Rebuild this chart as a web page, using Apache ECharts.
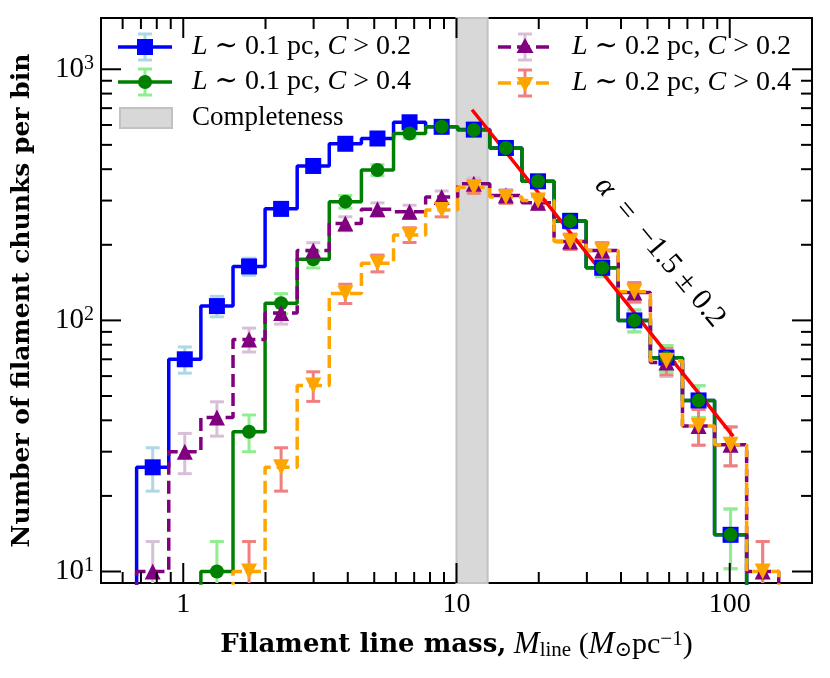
<!DOCTYPE html>
<html>
<head>
<meta charset="utf-8">
<script src="https://cdn.jsdelivr.net/npm/echarts@6/dist/echarts.min.js"></script>
<style>
html, body { margin: 0; padding: 0; background: #fff; }
#main { width: 830px; height: 678px; }
</style>
</head>
<body>
<div id="main"></div>
<script>
// bins (log spaced)
var binEdges = [0.675, 0.885, 1.16, 1.521, 1.993, 2.612, 3.423, 4.487, 5.883, 7.709, 10.10,
  13.24, 17.36, 22.75, 29.82, 39.08, 51.23, 67.14, 88.0, 115.3, 151.1];
var binCenters = [0.773, 1.013, 1.328, 1.741, 2.281, 2.990, 3.919, 5.137, 6.733, 8.825, 11.57,
  15.16, 19.87, 26.05, 34.14, 44.75, 58.65, 76.88, 100.7, 132.0];

// counts per bin
var l01c02 = [26, 70, 114, 164, 278, 412, 505, 530, 615, 590, 575, 486, 358, 249, 162, 100, 71, 48, 14, null];
var l01c04 = [null, null, 10, 36, 117, 175, 297, 397, 555, 590, 573, 486, 358, 249, 162, 100, 71, 48, 14, null];
var l02c02 = [10, 30, 41, 84, 107, 190, 243, 277, 271, 310, 350, 314, 294, 206, 190, 129, 68, 38, 32, 10];
var l02c04 = [null, null, null, 10, 26, 55, 128, 169, 219, 275, 339, 310, 300, 206, 190, 130, 69, 38, 32, 10];

// power-law fit end points
var fitX = [11.4, 103];
var fitY = [690, 34.5];

var completeness = [10, 13];

// axis ticks
var xMajorTicks = [1, 10, 100];
var xMinorTicks = [0.6, 0.7, 0.8, 0.9, 2, 3, 4, 5, 6, 7, 8, 9, 20, 30, 40, 50, 60, 70, 80, 90];
var yMajorTicks = [10, 100, 1000];
var yMinorTicks = [20, 30, 40, 50, 60, 70, 80, 90, 200, 300, 400, 500, 600, 700, 800, 900];

var xMin = 0.5, xMax = 200, yMin = 9, yMax = 1600;
var yFloor = 1;

var serif = '"Liberation Serif", "DejaVu Serif", serif';
var serifBold = '"DejaVu Serif", "Liberation Serif", serif';

var chart = echarts.init(document.getElementById('main'));

// histogram outline like matplotlib step
function stepPoints(vals) {
  var first = -1, last = -1;
  for (var i = 0; i < vals.length; i++) {
    if (vals[i] != null) { if (first < 0) first = i; last = i; }
  }
  var pts = [[binEdges[first], yFloor]];
  for (var j = first; j <= last; j++) {
    pts.push([binEdges[j], vals[j]]);
    pts.push([binEdges[j + 1], vals[j]]);
  }
  pts.push([binEdges[last + 1], yFloor]);
  return pts;
}
function markerPoints(vals) {
  var out = [];
  vals.forEach(function (v, i) { if (v != null) out.push([binCenters[i], v]); });
  return out;
}
// poisson error bars
function errPoints(vals) {
  var out = [];
  vals.forEach(function (v, i) {
    if (v != null) out.push([binCenters[i], v - Math.sqrt(v), v + Math.sqrt(v)]);
  });
  return out;
}
function errRender(color) {
  return function (params, api) {
    var x = api.value(0);
    var lo = api.coord([x, api.value(1)]);
    var hi = api.coord([x, api.value(2)]);
    var st = { stroke: color, lineWidth: 3 };
    return { type: 'group', children: [
      { type: 'line', shape: { x1: lo[0], y1: lo[1], x2: hi[0], y2: hi[1] }, style: st },
      { type: 'line', shape: { x1: lo[0] - 7, y1: lo[1], x2: lo[0] + 7, y2: lo[1] }, style: st },
      { type: 'line', shape: { x1: hi[0] - 7, y1: hi[1], x2: hi[0] + 7, y2: hi[1] }, style: st }
    ] };
  };
}
function tickData(vals, len, isX) {
  return vals.map(function (v) { return isX ? [v, yMin, len] : [xMin, v, len]; });
}
function xTickRender(params, api) {
  var v = api.value(0), len = api.value(2);
  var b = api.coord([v, yMin]), t = api.coord([v, yMax]);
  var st = { stroke: '#000', lineWidth: 2 };
  return { type: 'group', children: [
    { type: 'line', shape: { x1: b[0], y1: b[1], x2: b[0], y2: b[1] - len }, style: st },
    { type: 'line', shape: { x1: t[0], y1: t[1], x2: t[0], y2: t[1] + len }, style: st }
  ] };
}
function yTickRender(params, api) {
  var v = api.value(1), len = api.value(2);
  var l = api.coord([xMin, v]), r = api.coord([xMax, v]);
  var st = { stroke: '#000', lineWidth: 2 };
  return { type: 'group', children: [
    { type: 'line', shape: { x1: l[0], y1: l[1], x2: l[0] + len, y2: l[1] }, style: st },
    { type: 'line', shape: { x1: r[0], y1: r[1], x2: r[0] - len, y2: r[1] }, style: st }
  ] };
}

var sets = [
  { data: l01c02, color: '#0000ff', err: '#add8e6', dash: 'solid', symbol: 'rect', size: 16, rot: 0 },
  { data: l01c04, color: '#008000', err: '#90ee90', dash: 'solid', symbol: 'circle', size: 14, rot: 0 },
  { data: l02c02, color: '#800080', err: '#d8bfd8', dash: [13, 6], symbol: 'triangle', size: 16, rot: 0 },
  { data: l02c04, color: '#ffa500', err: '#f08080', dash: [13, 6], symbol: 'triangle', size: 16, rot: 180 }
];

var series = [];
series.push({
  type: 'custom', name: 'Completeness', z: 1, silent: true,
  data: [[completeness[0], yMin, completeness[1]]],
  renderItem: function (params, api) {
    var a = api.coord([api.value(0), yMin]);
    var b = api.coord([api.value(2), yMax]);
    return { type: 'rect', shape: { x: a[0], y: b[1], width: b[0] - a[0], height: a[1] - b[1] },
      style: { fill: '#d8d8d8', stroke: '#c2c2c2', lineWidth: 2 } };
  }
});
sets.forEach(function (s, k) {
  series.push({ type: 'custom', z: 2, clip: true, silent: true, data: errPoints(s.data),
    encode: { x: 0, y: [1, 2] }, renderItem: errRender(s.err) });
});
sets.forEach(function (s, k) {
  series.push({ type: 'line', z: 3 + k, data: stepPoints(s.data), symbol: 'none', silent: true,
    clip: true, lineStyle: { color: s.color, width: 3.5, type: s.dash } });
});
series.push({ type: 'line', z: 8, data: [[fitX[0], fitY[0]], [fitX[1], fitY[1]]], symbol: 'none',
  lineStyle: { color: '#ff0000', width: 3.5 } });
sets.forEach(function (s, k) {
  series.push({ type: 'scatter', z: 9 + k, data: markerPoints(s.data), symbol: s.symbol,
    symbolSize: s.size, symbolRotate: s.rot, itemStyle: { color: s.color, opacity: 1 } });
});
series.push({ type: 'custom', z: 20, silent: true, data: tickData(xMajorTicks, 20, true), renderItem: xTickRender });
series.push({ type: 'custom', z: 20, silent: true, data: tickData(xMinorTicks, 11, true), renderItem: xTickRender });
series.push({ type: 'custom', z: 20, silent: true, data: tickData(yMajorTicks, 20, false), renderItem: yTickRender });
series.push({ type: 'custom', z: 20, silent: true, data: tickData(yMinorTicks, 11, false), renderItem: yTickRender });

var option = {
  animation: false,
  grid: { left: 101, right: 18, top: 18, bottom: 95, show: true, borderColor: '#000', borderWidth: 2,
    backgroundColor: 'transparent' },
  xAxis: {
    type: 'log', logBase: 10, min: xMin, max: xMax,
    splitLine: { show: false }, axisTick: { show: false }, axisLine: { show: false },
    axisLabel: {
      showMinLabel: false, showMaxLabel: false, margin: 8,
      fontFamily: serif, fontSize: 28, color: '#000',
      formatter: function (v) {
        var e = Math.log10(v);
        return Math.abs(e - Math.round(e)) < 0.01 ? String(Math.round(v)) : '';
      }
    },
    name: '{b|Filament line mass,} {i|M}{sub|line} ({i|M}{sub|\u2299}pc{sup|\u22121})',
    nameLocation: 'middle', nameGap: 46,
    nameTextStyle: {
      fontFamily: serif, fontSize: 30, color: '#000',
      rich: {
        b: { fontFamily: serifBold, fontSize: 26, fontWeight: 'bold', color: '#000', lineHeight: 32 },
        i: { fontFamily: serif, fontSize: 31, fontStyle: 'italic', color: '#000', lineHeight: 32 },
        sub: { fontFamily: serif, fontSize: 21, color: '#000', verticalAlign: 'bottom', lineHeight: 20, padding: [10, 0, 0, 0] },
        sup: { fontFamily: serif, fontSize: 21, color: '#000', verticalAlign: 'top', lineHeight: 20, padding: [0, 0, 8, 0] }
      }
    }
  },
  yAxis: {
    type: 'log', logBase: 10, min: yMin, max: yMax,
    splitLine: { show: false }, axisTick: { show: false }, axisLine: { show: false },
    axisLabel: {
      showMinLabel: false, showMaxLabel: false, margin: 7,
      fontFamily: serif, fontSize: 29, color: '#000',
      formatter: function (v) {
        var e = Math.log10(v);
        if (Math.abs(e - Math.round(e)) > 0.01) return '';
        return '{n|10}{s|' + Math.round(e) + '}';
      },
      rich: {
        n: { fontFamily: serif, fontSize: 29, color: '#000', lineHeight: 32 },
        s: { fontFamily: serif, fontSize: 20, color: '#000', verticalAlign: 'top', lineHeight: 20, padding: [0, 0, 10, 0] }
      }
    },
    name: 'Number of filament chunks per bin',
    nameLocation: 'middle', nameGap: 66,
    nameTextStyle: { fontFamily: serifBold, fontSize: 25, fontWeight: 'bold', color: '#000' }
  },
  series: series
};
chart.setOption(option);

// legend drawn by hand (line + errorbar + marker)
var legendText = [
  '{i|L} \u223c 0.1 pc, {i|C} > 0.2',
  '{i|L} \u223c 0.1 pc, {i|C} > 0.4',
  '{i|L} \u223c 0.2 pc, {i|C} > 0.2',
  '{i|L} \u223c 0.2 pc, {i|C} > 0.4'
];
var richText = {
  i: { fontFamily: serif, fontSize: 28, fontStyle: 'italic', fill: '#000' }
};
var legendPos = [[118, 47], [118, 82], [498, 47], [498, 83]];
var gfx = [];
sets.forEach(function (s, k) {
  var x0 = legendPos[k][0], y = legendPos[k][1], xm = x0 + 27;
  var dash = s.dash === 'solid' ? null : s.dash;
  gfx.push({ type: 'line', z: 100, shape: { x1: x0, y1: y, x2: x0 + 54, y2: y },
    style: { stroke: s.color, lineWidth: 3.5, lineDash: dash } });
  var es = { stroke: s.err, lineWidth: 3 };
  gfx.push({ type: 'line', z: 101, shape: { x1: xm, y1: y - 13, x2: xm, y2: y + 13 }, style: es });
  gfx.push({ type: 'line', z: 101, shape: { x1: xm - 7, y1: y - 13, x2: xm + 7, y2: y - 13 }, style: es });
  gfx.push({ type: 'line', z: 101, shape: { x1: xm - 7, y1: y + 13, x2: xm + 7, y2: y + 13 }, style: es });
  var mk;
  if (s.symbol === 'rect') mk = { type: 'rect', shape: { x: xm - 8, y: y - 8, width: 16, height: 16 } };
  else if (s.symbol === 'circle') mk = { type: 'circle', shape: { cx: xm, cy: y, r: 7 } };
  else if (s.rot === 0) mk = { type: 'polygon', shape: { points: [[xm, y - 9], [xm + 8.5, y + 6], [xm - 8.5, y + 6]] } };
  else mk = { type: 'polygon', shape: { points: [[xm, y + 9], [xm + 8.5, y - 6], [xm - 8.5, y - 6]] } };
  mk.z = 102;
  mk.style = { fill: s.color };
  gfx.push(mk);
  gfx.push({ type: 'text', z: 102, x: x0 + 74, y: y,
    style: { text: legendText[k], rich: richText, fontFamily: serif, fontSize: 28, fill: '#000',
      verticalAlign: 'middle', align: 'left' } });
});
gfx.push({ type: 'rect', z: 100, shape: { x: 120, y: 108, width: 52, height: 20 },
  style: { fill: '#d8d8d8', stroke: '#c2c2c2', lineWidth: 2 } });
gfx.push({ type: 'text', z: 102, x: 192, y: 118,
  style: { text: 'Completeness', fontFamily: serif, fontSize: 27, fill: '#000', verticalAlign: 'middle', align: 'left' } });

// slope annotation along the fit
var ap = chart.convertToPixel({ xAxisIndex: 0, yAxisIndex: 0 }, [55.5, 187]);
gfx.push({ type: 'text', z: 102, x: ap[0], y: ap[1], rotation: -50 * Math.PI / 180,
  style: { text: '{i|\u03b1}  =  \u22121.5 \u00b1 0.2', rich: { i: { fontFamily: serif, fontSize: 30, fontStyle: 'italic', fill: '#000' } },
    fontFamily: serif, fontSize: 30, fill: '#000', align: 'center', verticalAlign: 'middle' } });

chart.setOption({ graphic: gfx });
</script>
</body>
</html>
